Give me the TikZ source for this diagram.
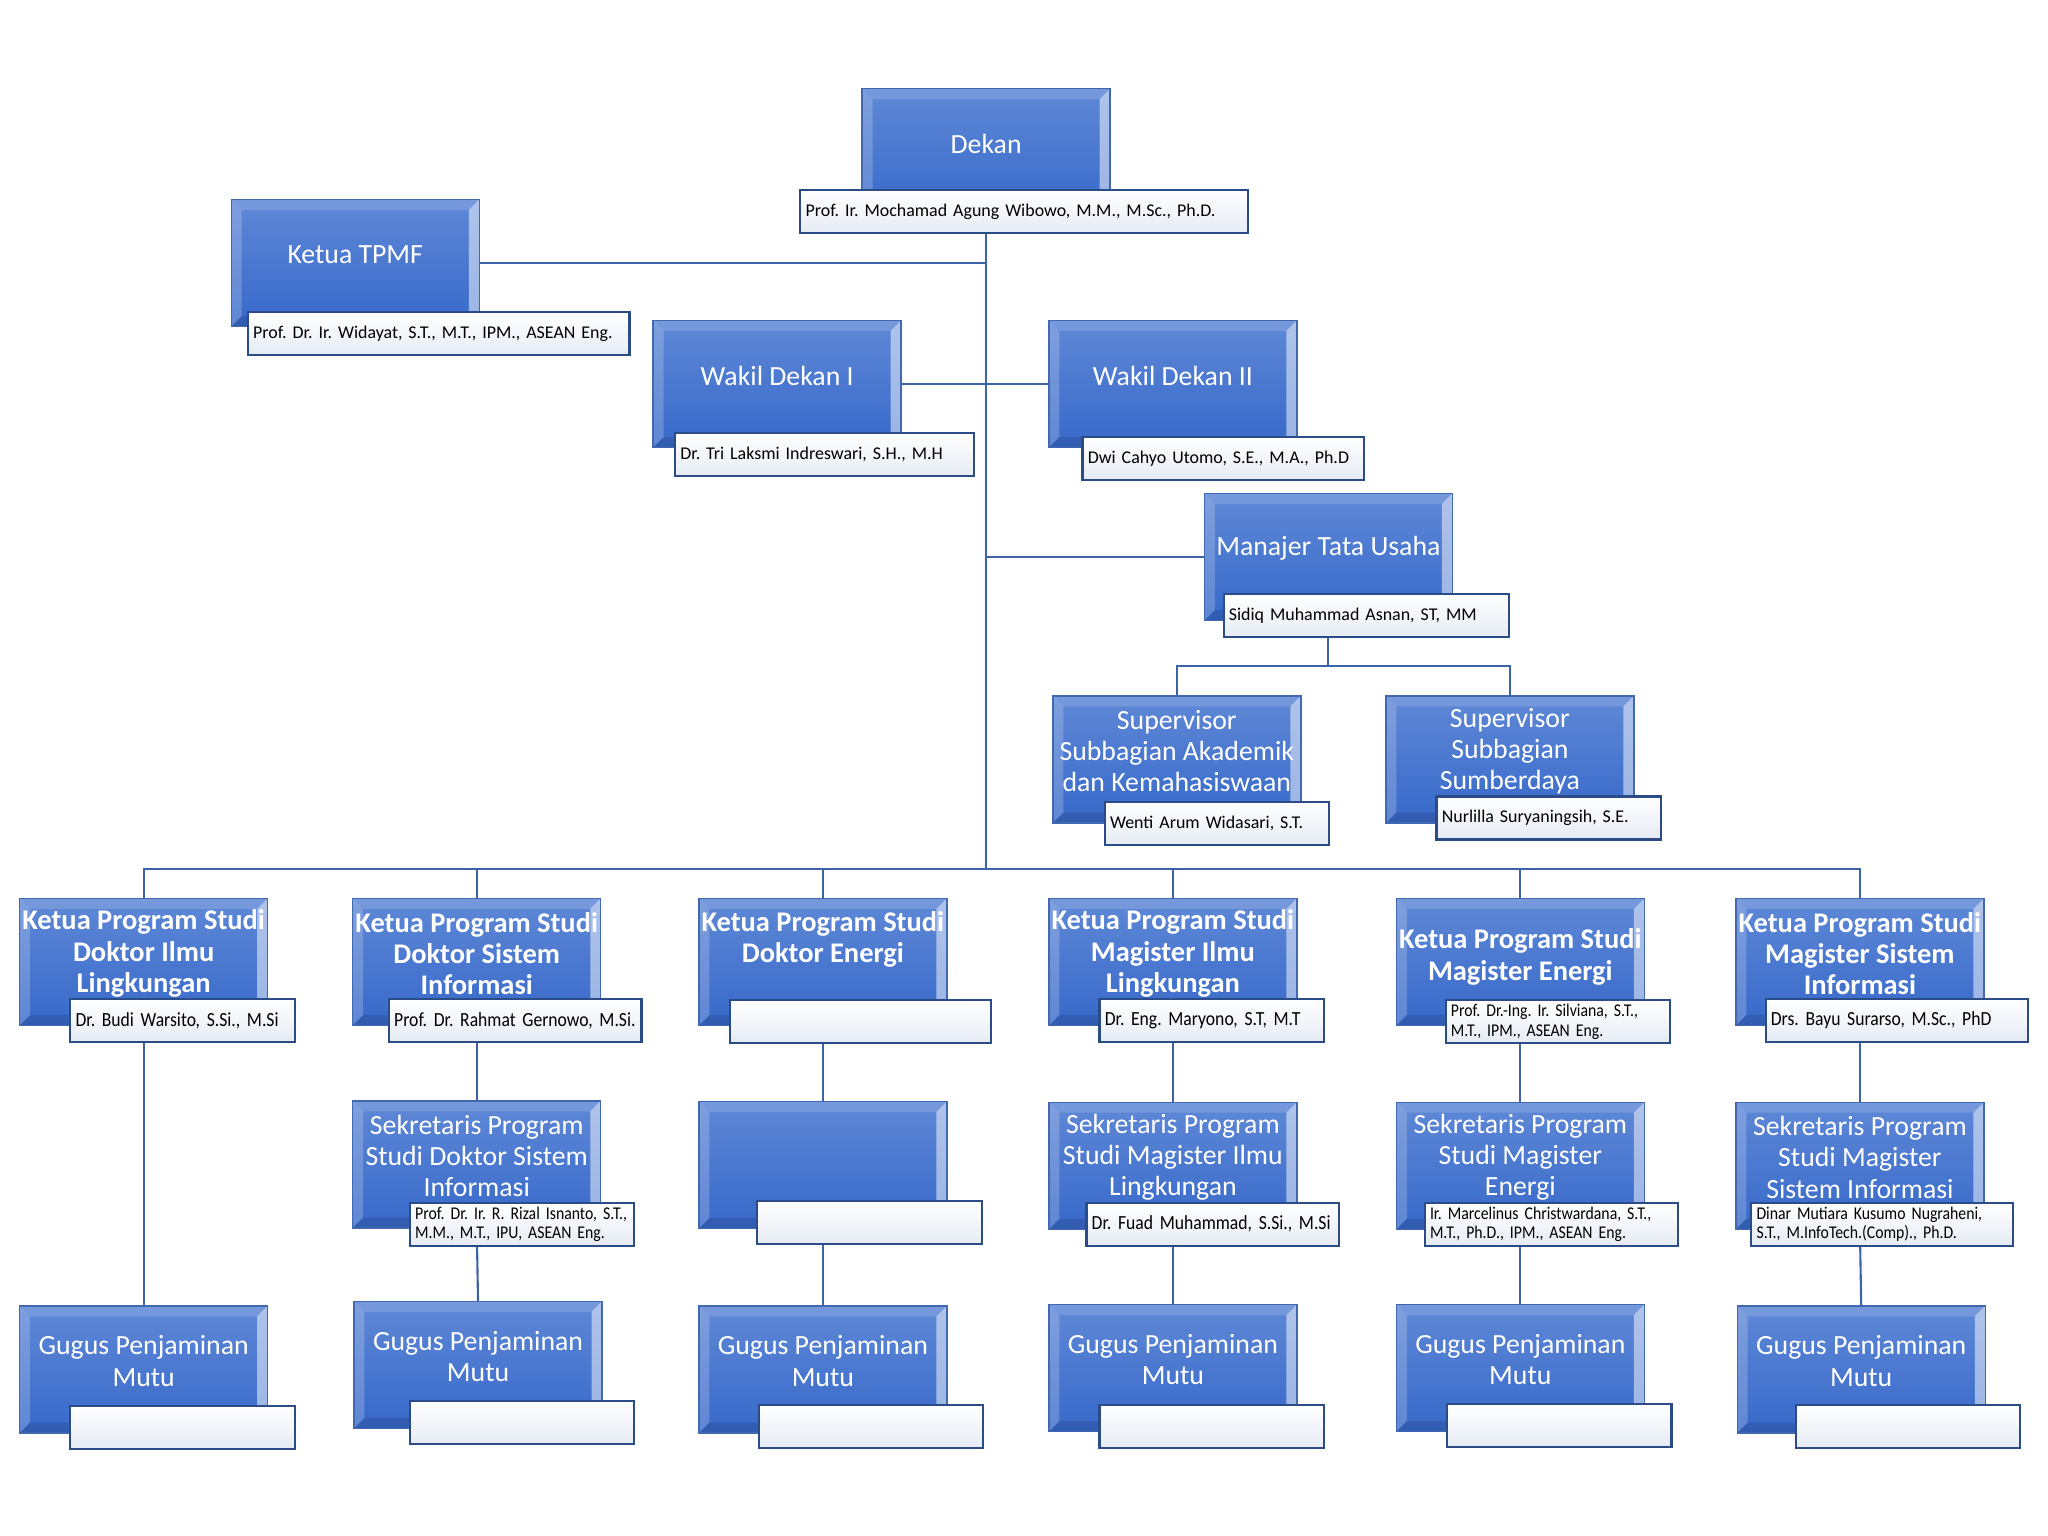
\documentclass[tikz,border=0pt]{standalone}
\usepackage{fontspec}
\setmainfont{Carlito}
\newfontfamily\narrowfont[FakeStretch=0.88]{Carlito}
\usetikzlibrary{positioning, backgrounds}
\definecolor{boxtop}{RGB}{95,136,214}
\definecolor{boxbottom}{RGB}{55,105,202}
\definecolor{boxedge}{RGB}{66,104,176}
\definecolor{nameedge}{RGB}{43,76,134}
\definecolor{namefill}{RGB}{230,235,244}
\definecolor{linkblue}{RGB}{60,98,168}
\tikzset{%
unit/.style={
    rectangle, draw=boxedge, line width=0.4pt,
    top color=boxtop, bottom color=boxbottom,
    minimum width=2.48cm, minimum height=1.27cm,
    inner sep=0pt, outer sep=0pt,
    path picture={
      \fill[white, opacity=.5] (path picture bounding box.north east) -- ++(-8,8)
        -- ([shift={(-8,-8)}]path picture bounding box.south east)
        -- (path picture bounding box.south east) -- cycle;
      \fill[white, opacity=.2] (path picture bounding box.north west) -- ++(8,8)
        -- ([shift={(8,-8)}]path picture bounding box.south west)
        -- (path picture bounding box.south west) -- cycle;
      \fill[white, opacity=.15] (path picture bounding box.north west) -- ++(8,8)
        -- ([shift={(-8,8)}]path picture bounding box.north east)
        -- (path picture bounding box.north east) -- cycle;
      \fill[black, opacity=.12] (path picture bounding box.south west) -- ++(8,-8)
        -- ([shift={(-8,-8)}]path picture bounding box.south east)
        -- (path picture bounding box.south east) -- cycle;
    }
  },
title/.style={
    text=white, align=center, yshift=2.4pt, inner sep=0pt,
    font=\fontsize{7.9}{8.9}\selectfont
  },
bold title/.style={
    title, font=\fontsize{8.1}{8.9}\selectfont\bfseries
  },
person/.style={
    rectangle, draw=nameedge, line width=0.6pt,
    top color=white, bottom color=namefill,
    anchor=north west, text width=#1, minimum height=0.43cm,
    inner xsep=1.5pt, inner ysep=0pt, align=left, text=black,
    font=\fontsize{5.1}{6.2}\selectfont\frenchspacing
  },
person narrow/.style={
    person=#1, font=\narrowfont\fontsize{5.7}{6.2}\selectfont\frenchspacing
  },
person small/.style={
    person=#1, font=\narrowfont\fontsize{5.1}{5.6}\selectfont\frenchspacing
  },
link/.style={draw=linkblue, line width=0.6pt}
}

\begin{document}
\begin{tikzpicture}[x=0.01306cm, y=-0.01306cm]
\useasboundingbox (0,0) rectangle (1568,1176);

% top level
\node[unit, label={[title]center:Dekan}] (dekan) at (755,116.5) {};
\node[person=4.37cm] (dekanname) at (612,145) {Prof. Ir. Mochamad Agung Wibowo, M.M., M.Sc., Ph.D.};

\node[unit, label={[title]center:Ketua TPMF}] (tpmf) at (272,201.5) {};
\node[person=3.71cm] (tpmfname) at (189,238) {Prof. Dr. Ir. Widayat, S.T., M.T., IPM., ASEAN Eng.};

\node[unit, label={[title]center:Wakil Dekan I}] (wd1) at (595,294) {};
\node[person=2.88cm] (wd1name) at (516,331) {Dr. Tri Laksmi Indreswari, S.H., M.H};

\node[unit, label={[title]center:Wakil Dekan II}] (wd2) at (898,294) {};
\node[person=2.71cm] (wd2name) at (828,334) {Dwi Cahyo Utomo, S.E., M.A., Ph.D};

\node[unit, label={[title]center:Manajer Tata Usaha}] (mtu) at (1017,426.5) {};
\node[person=2.75cm] (mtuname) at (936,454) {Sidiq Muhammad Asnan, ST, MM};

\node[unit, label={[title]center:Supervisor\\Subbagian Akademik\\dan Kemahasiswaan}] (supak) at (901,581.5) {};
\node[person=2.14cm] (supakname) at (845,613) {Wenti Arum Widasari, S.T.};

\node[unit, label={[title]center:Supervisor\\Subbagian\\Sumberdaya}] (supsd) at (1156,581.5) {};
\node[person=2.14cm] (supsdname) at (1099,609) {Nurlilla Suryaningsih, S.E.};

% ketua program studi
\node[unit, label={[bold title]center:Ketua Program Studi\\Doktor Ilmu\\Lingkungan}] (k1) at (110,736.5) {};
\node[person narrow=2.14cm] (k1name) at (53,764) {Dr. Budi Warsito, S.Si., M.Si};

\node[unit, label={[bold title]center:Ketua Program Studi\\Doktor Sistem\\Informasi}] (k2) at (365,736.5) {};
\node[person narrow=2.42cm] (k2name) at (297,764) {Prof. Dr. Rahmat Gernowo, M.Si.};

\node[unit, label={[bold title, yshift=4pt]center:Ketua Program Studi\\Doktor Energi}] (k3) at (630,736.5) {};
\node[person=2.51cm] (k3name) at (558,765) {};

\node[unit, label={[bold title]center:Ketua Program Studi\\Magister Ilmu\\Lingkungan}] (k4) at (898,736.5) {};
\node[person narrow=2.14cm] (k4name) at (841,764) {Dr. Eng. Maryono, S.T, M.T};

\node[unit, label={[bold title, yshift=-1pt]center:Ketua Program Studi\\Magister Energi}] (k5) at (1164,736.5) {};
\node[person small=2.14cm] (k5name) at (1106,765) {Prof. Dr.-Ing. Ir. Silviana, S.T.,\\M.T., IPM., ASEAN Eng.};

\node[unit, label={[bold title]center:Ketua Program Studi\\Magister Sistem\\Informasi}] (k6) at (1424,736.5) {};
\node[person narrow=2.52cm] (k6name) at (1351,764) {Drs. Bayu Surarso, M.Sc., PhD};

% sekretaris program studi
\node[unit, label={[title]center:Sekretaris Program\\Studi Doktor Sistem\\Informasi}] (s2) at (365,891.5) {};
\node[person small=2.14cm] (s2name) at (313,920) {Prof. Dr. Ir. R. Rizal Isnanto, S.T.,\\M.M., M.T., IPU, ASEAN Eng.};

\node[unit] (s3) at (630,892) {};
\node[person=2.14cm] (s3name) at (579,919) {};

\node[unit, label={[title]center:Sekretaris Program\\Studi Magister Ilmu\\Lingkungan}] (s4) at (898,892.5) {};
\node[person narrow=2.42cm] (s4name) at (831,920) {Dr. Fuad Muhammad, S.Si., M.Si};

\node[unit, label={[title]center:Sekretaris Program\\Studi Magister\\Energi}] (s5) at (1164,892.5) {};
\node[person small=2.43cm] (s5name) at (1090,920) {Ir. Marcelinus Christwardana, S.T.,\\M.T., Ph.D., IPM., ASEAN Eng.};

\node[unit, label={[title]center:Sekretaris Program\\Studi Magister\\Sistem Informasi}] (s6) at (1424,892.5) {};
\node[person small=2.51cm] (s6name) at (1340,920) {Dinar Mutiara Kusumo Nugraheni,\\S.T., M.InfoTech.(Comp)., Ph.D.};

% gugus penjaminan mutu
\node[unit, label={[title]center:Gugus Penjaminan\\Mutu}] (g1) at (110,1048.5) {};
\node[person=2.14cm] (g1name) at (53,1076) {};

\node[unit, label={[title]center:Gugus Penjaminan\\Mutu}] (g2) at (366,1045) {};
\node[person=2.14cm] (g2name) at (313,1072) {};

\node[unit, label={[title]center:Gugus Penjaminan\\Mutu}] (g3) at (630,1048.5) {};
\node[person=2.14cm] (g3name) at (580,1075) {};

\node[unit, label={[title]center:Gugus Penjaminan\\Mutu}] (g4) at (898,1047.5) {};
\node[person=2.14cm] (g4name) at (841,1075) {};

\node[unit, label={[title]center:Gugus Penjaminan\\Mutu}] (g5) at (1164,1047.5) {};
\node[person=2.14cm] (g5name) at (1107,1074) {};

\node[unit, label={[title]center:Gugus Penjaminan\\Mutu}] (g6) at (1425,1048.5) {};
\node[person=2.14cm] (g6name) at (1374,1075) {};

\coordinate (bus) at (755,665);
\coordinate (mtubus) at (1017,510);

\begin{scope}[on background layer]
\draw[link] (dekan.south) -- (bus);
\draw[link] (tpmf.east) -- (tpmf.east -| bus);
\draw[link] (wd1.east) -- (wd2.west);
\draw[link] (mtu.west) -- (mtu.west -| bus);
\draw[link] (mtu.south) -- (mtubus);
\draw[link] (supak.north) |- (mtubus) -| (supsd.north);
\draw[link] (k1.north) |- (bus) -| (k6.north);
\draw[link] (k2.north) -- (k2.north |- bus);
\draw[link] (k3.north) -- (k3.north |- bus);
\draw[link] (k4.north) -- (k4.north |- bus);
\draw[link] (k5.north) -- (k5.north |- bus);
\draw[link] (k1.south) -- (g1.north);
\draw[link] (k2.south) -- (s2.north);
\draw[link] (s2.south) -- (g2.north);
\draw[link] (k3.south) -- (s3.north);
\draw[link] (s3.south) -- (g3.north);
\draw[link] (k4.south) -- (s4.north);
\draw[link] (s4.south) -- (g4.north);
\draw[link] (k5.south) -- (s5.north);
\draw[link] (s5.south) -- (g5.north);
\draw[link] (k6.south) -- (s6.north);
\draw[link] (s6.south) -- (g6.north);
\end{scope}
\end{tikzpicture}
\end{document}
